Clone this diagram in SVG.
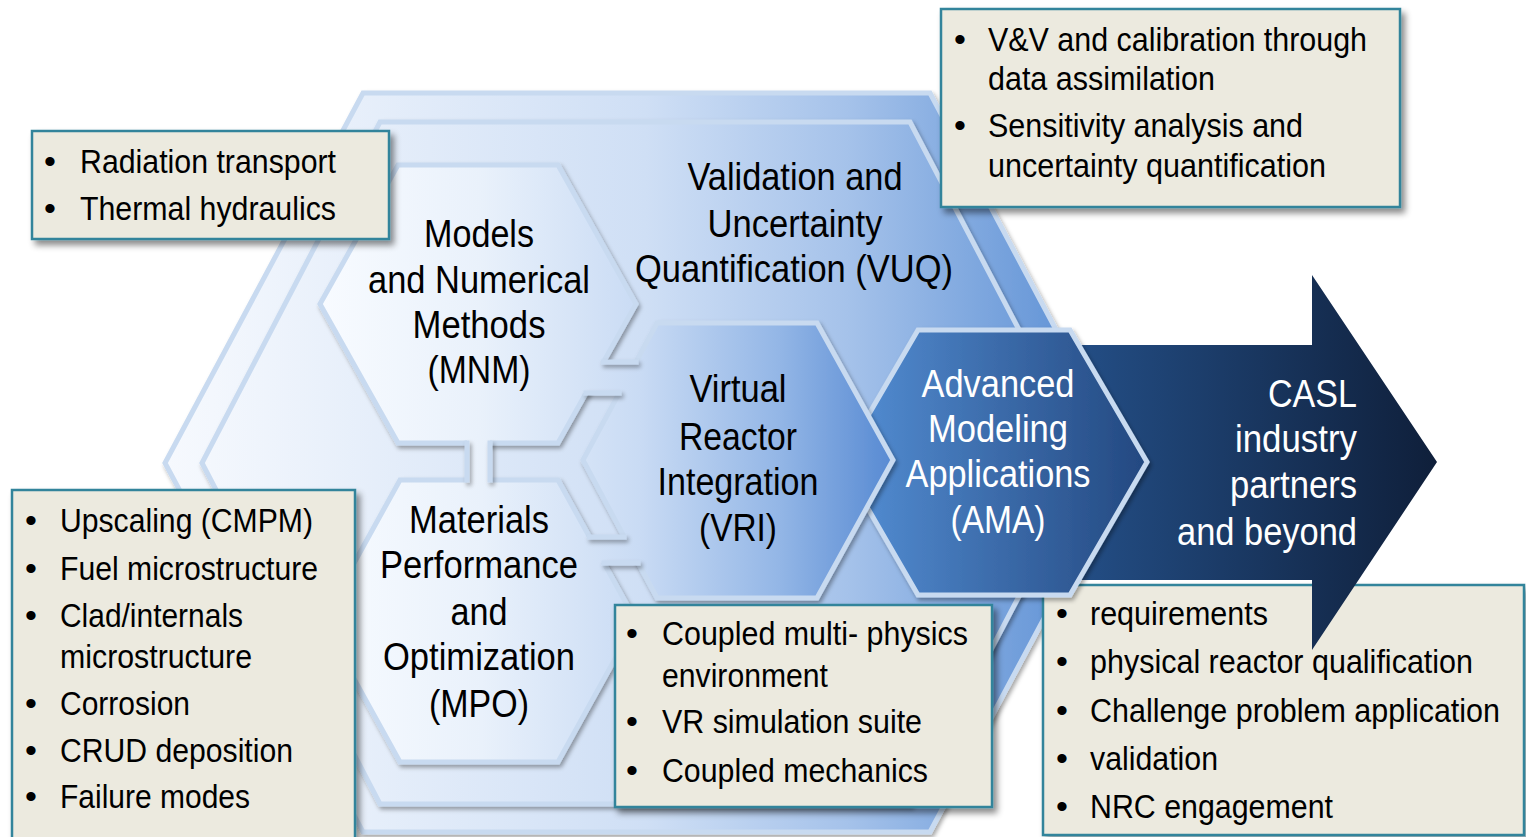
<svg xmlns="http://www.w3.org/2000/svg" width="1526" height="837" viewBox="0 0 1526 837">
<defs>
<linearGradient id="gBg" gradientUnits="userSpaceOnUse" x1="165" y1="0" x2="1127" y2="0">
<stop offset="0" stop-color="#f6f9fe"/>
<stop offset="0.05" stop-color="#f3f7fd"/>
<stop offset="0.5" stop-color="#cfdff5"/>
<stop offset="0.71" stop-color="#a5c2ea"/>
<stop offset="0.92" stop-color="#6898d8"/>
<stop offset="1" stop-color="#5b8ed4"/>
</linearGradient>
<linearGradient id="gHex" gradientUnits="userSpaceOnUse" x1="320" y1="0" x2="895" y2="0">
<stop offset="0" stop-color="#f8fbff"/>
<stop offset="0.28" stop-color="#e9f1fb"/>
<stop offset="0.557" stop-color="#c9dbf4"/>
<stop offset="0.8" stop-color="#93b6e6"/>
<stop offset="1" stop-color="#5689d2"/>
</linearGradient>
<linearGradient id="gAma" gradientUnits="userSpaceOnUse" x1="841" y1="0" x2="1147" y2="0">
<stop offset="0" stop-color="#5590d6"/>
<stop offset="1" stop-color="#234880"/>
</linearGradient>
<linearGradient id="gArrow" gradientUnits="userSpaceOnUse" x1="1060" y1="0" x2="1437" y2="0">
<stop offset="0" stop-color="#245089"/>
<stop offset="1" stop-color="#0f1f3a"/>
</linearGradient>
<filter id="shHex" x="-10%" y="-10%" width="125%" height="125%">
<feDropShadow dx="2" dy="3" stdDeviation="2" flood-color="#000" flood-opacity="0.35"/>
</filter>
<filter id="shBox" x="-10%" y="-10%" width="125%" height="130%">
<feDropShadow dx="4" dy="5" stdDeviation="3" flood-color="#000" flood-opacity="0.45"/>
</filter>
<style>
.edge{stroke:#c8daf0;stroke-width:5;stroke-linejoin:miter}
.hexf{fill:url(#gHex)}
.neckline{fill:none;stroke:#c8daf0;stroke-width:5;stroke-linecap:square}
.box{fill:#ecead f;fill:#eceadf;stroke:#31849b;stroke-width:2.5}
.hl{font-family:"Liberation Sans Narrow","Liberation Sans",Arial,sans-serif;font-size:38px;text-anchor:middle;fill:#000}
.wl{font-family:"Liberation Sans Narrow","Liberation Sans",Arial,sans-serif;font-size:38px;text-anchor:middle;fill:#fff}
.cl{font-family:"Liberation Sans Narrow","Liberation Sans",Arial,sans-serif;font-size:38px;text-anchor:end;fill:#fff}
.bt{font-family:"Liberation Sans Narrow","Liberation Sans",Arial,sans-serif;font-size:34px;fill:#000}
.bu{font-family:"Liberation Sans",Arial,sans-serif;font-size:34px;fill:#000}
</style>
</defs>

<g id="node-vuq">
<polygon class="edge" fill="url(#gBg)" filter="url(#shHex)" points="363,93 930,93 1127,463 930,832 363,832 165,463"/>
<polygon class="edge" fill="url(#gBg)" filter="url(#shHex)" points="380,122 910,122 1089,463 910,804 380,804 202,463"/>
</g>

<g id="box-ama">
<rect class="box" filter="url(#shBox)" x="1043" y="585" width="481" height="250"/>
<text class="bu" x="1056" y="625">•</text>
<text class="bu" x="1056" y="673">•</text>
<text class="bu" x="1056" y="722">•</text>
<text class="bu" x="1056" y="770">•</text>
<text class="bu" x="1056" y="818">•</text>
<text class="bt" x="1090" y="625" textLength="178" lengthAdjust="spacingAndGlyphs">requirements</text>
<text class="bt" x="1090" y="673" textLength="383" lengthAdjust="spacingAndGlyphs">physical reactor qualification</text>
<text class="bt" x="1090" y="722" textLength="410" lengthAdjust="spacingAndGlyphs">Challenge problem application</text>
<text class="bt" x="1090" y="770" textLength="128" lengthAdjust="spacingAndGlyphs">validation</text>
<text class="bt" x="1090" y="818" textLength="243" lengthAdjust="spacingAndGlyphs">NRC engagement</text>
</g>

<g id="node-casl">
<polygon fill="url(#gArrow)" points="1060,345 1312,345 1312,275 1437,462 1312,650 1312,580 1060,580"/>
<text class="cl" x="1357" y="407" textLength="89" lengthAdjust="spacingAndGlyphs">CASL</text>
<text class="cl" x="1357" y="452" textLength="122" lengthAdjust="spacingAndGlyphs">industry</text>
<text class="cl" x="1357" y="498" textLength="127" lengthAdjust="spacingAndGlyphs">partners</text>
<text class="cl" x="1357" y="545" textLength="180" lengthAdjust="spacingAndGlyphs">and beyond</text>
</g>

<g id="node-ama">
<polygon class="edge" fill="url(#gAma)" filter="url(#shHex)" points="918,330 1070,330 1147,462 1070,595 918,595 841,462"/>
<text class="wl" x="998" y="397" textLength="153" lengthAdjust="spacingAndGlyphs">Advanced</text>
<text class="wl" x="998" y="442" textLength="140" lengthAdjust="spacingAndGlyphs">Modeling</text>
<text class="wl" x="998" y="487" textLength="185" lengthAdjust="spacingAndGlyphs">Applications</text>
<text class="wl" x="998" y="533" textLength="95" lengthAdjust="spacingAndGlyphs">(AMA)</text>
</g>

<g id="node-mnm">
<polygon class="edge hexf" filter="url(#shHex)" points="398,165 558,165 636,304 558,443 398,443 320,304"/>
</g>
<g id="node-mpo">
<polygon class="edge hexf" filter="url(#shHex)" points="400,480 558,480 636,621 558,762 400,762 322,621"/>
</g>
<g id="node-vri">
<polygon class="edge hexf" filter="url(#shHex)" points="657,323 817,323 893,460 817,598 657,598 583,460"/>
</g>

<g id="connectors">
<polygon class="hexf" points="467,437 490,437 490,486 467,486"/>
<polygon class="hexf" points="595,362 645,362 628,393 577,393"/>
<polygon class="hexf" points="581,537 633,537 647,563 595,563"/>
<g filter="url(#shHex)">
<path class="neckline" d="M467,443 V480 M490,443 V480"/>
<path class="neckline" d="M603.5,362 H636 M586,393 H619"/>
<path class="neckline" d="M589.5,537 H624 M604,563 H638"/>
</g>
</g>

<g id="labels">
<text class="hl" x="479" y="247" textLength="110" lengthAdjust="spacingAndGlyphs">Models</text>
<text class="hl" x="479" y="293" textLength="222" lengthAdjust="spacingAndGlyphs">and Numerical</text>
<text class="hl" x="479" y="338" textLength="133" lengthAdjust="spacingAndGlyphs">Methods</text>
<text class="hl" x="479" y="383" textLength="103" lengthAdjust="spacingAndGlyphs">(MNM)</text>

<text class="hl" x="479" y="533" textLength="140" lengthAdjust="spacingAndGlyphs">Materials</text>
<text class="hl" x="479" y="578" textLength="198" lengthAdjust="spacingAndGlyphs">Performance</text>
<text class="hl" x="479" y="625" textLength="57" lengthAdjust="spacingAndGlyphs">and</text>
<text class="hl" x="479" y="670" textLength="192" lengthAdjust="spacingAndGlyphs">Optimization</text>
<text class="hl" x="479" y="717" textLength="100" lengthAdjust="spacingAndGlyphs">(MPO)</text>

<text class="hl" x="738" y="402" textLength="97" lengthAdjust="spacingAndGlyphs">Virtual</text>
<text class="hl" x="738" y="450" textLength="118" lengthAdjust="spacingAndGlyphs">Reactor</text>
<text class="hl" x="738" y="495" textLength="161" lengthAdjust="spacingAndGlyphs">Integration</text>
<text class="hl" x="738" y="541" textLength="78" lengthAdjust="spacingAndGlyphs">(VRI)</text>

<text class="hl" x="795" y="190" textLength="215" lengthAdjust="spacingAndGlyphs">Validation and</text>
<text class="hl" x="795" y="237" textLength="175" lengthAdjust="spacingAndGlyphs">Uncertainty</text>
<text class="hl" x="794" y="282" textLength="318" lengthAdjust="spacingAndGlyphs">Quantification (VUQ)</text>
</g>

<g id="box-mnm">
<rect class="box" filter="url(#shBox)" x="32" y="131" width="357" height="108"/>
<text class="bu" x="44" y="173">•</text>
<text class="bu" x="44" y="220">•</text>
<text class="bt" x="80" y="173" textLength="256" lengthAdjust="spacingAndGlyphs">Radiation transport</text>
<text class="bt" x="80" y="220" textLength="256" lengthAdjust="spacingAndGlyphs">Thermal hydraulics</text>
</g>

<g id="box-vuq">
<rect class="box" filter="url(#shBox)" x="941" y="9" width="459" height="198"/>
<text class="bu" x="954" y="51">•</text>
<text class="bu" x="954" y="137">•</text>
<text class="bt" x="988" y="51" textLength="379" lengthAdjust="spacingAndGlyphs">V&amp;V and calibration through</text>
<text class="bt" x="988" y="90" textLength="227" lengthAdjust="spacingAndGlyphs">data assimilation</text>
<text class="bt" x="988" y="137" textLength="315" lengthAdjust="spacingAndGlyphs">Sensitivity analysis and</text>
<text class="bt" x="988" y="177" textLength="338" lengthAdjust="spacingAndGlyphs">uncertainty quantification</text>
</g>

<g id="box-mpo">
<rect class="box" filter="url(#shBox)" x="12" y="490" width="343" height="360"/>
<text class="bu" x="25" y="532">•</text>
<text class="bu" x="25" y="580">•</text>
<text class="bu" x="25" y="627">•</text>
<text class="bu" x="25" y="715">•</text>
<text class="bu" x="25" y="762">•</text>
<text class="bu" x="25" y="808">•</text>
<text class="bt" x="60" y="532" textLength="253" lengthAdjust="spacingAndGlyphs">Upscaling (CMPM)</text>
<text class="bt" x="60" y="580" textLength="258" lengthAdjust="spacingAndGlyphs">Fuel microstructure</text>
<text class="bt" x="60" y="627" textLength="183" lengthAdjust="spacingAndGlyphs">Clad/internals</text>
<text class="bt" x="60" y="668" textLength="192" lengthAdjust="spacingAndGlyphs">microstructure</text>
<text class="bt" x="60" y="715" textLength="130" lengthAdjust="spacingAndGlyphs">Corrosion</text>
<text class="bt" x="60" y="762" textLength="233" lengthAdjust="spacingAndGlyphs">CRUD deposition</text>
<text class="bt" x="60" y="808" textLength="190" lengthAdjust="spacingAndGlyphs">Failure modes</text>
</g>

<g id="box-vri">
<rect class="box" filter="url(#shBox)" x="615" y="605" width="377" height="202"/>
<text class="bu" x="626" y="645">•</text>
<text class="bu" x="626" y="733">•</text>
<text class="bu" x="626" y="782">•</text>
<text class="bt" x="662" y="645" textLength="306" lengthAdjust="spacingAndGlyphs">Coupled multi- physics</text>
<text class="bt" x="662" y="687" textLength="166" lengthAdjust="spacingAndGlyphs">environment</text>
<text class="bt" x="662" y="733" textLength="260" lengthAdjust="spacingAndGlyphs">VR simulation suite</text>
<text class="bt" x="662" y="782" textLength="266" lengthAdjust="spacingAndGlyphs">Coupled mechanics</text>
</g>
</svg>
